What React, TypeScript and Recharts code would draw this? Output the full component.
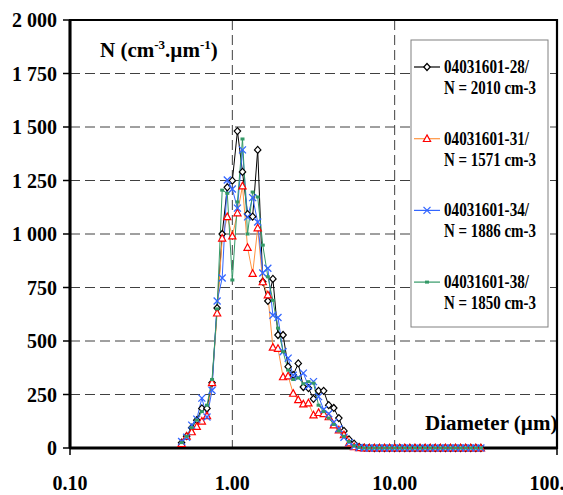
import React from "react";
import {
  LineChart,
  Line,
  XAxis,
  YAxis,
  CartesianGrid,
  ReferenceArea,
} from "recharts";

// particle diameters (µm)
const diameters = [
  0.487, 0.523, 0.562, 0.604, 0.649, 0.698, 0.75, 0.806, 0.866, 0.931,
  1.0, 1.075, 1.155, 1.241, 1.334, 1.433, 1.54, 1.655, 1.778, 1.911,
  2.054, 2.207, 2.371, 2.548, 2.738, 2.943, 3.162, 3.398, 3.652, 3.924,
  4.217, 4.532, 4.87, 5.233, 5.623, 6.043, 6.494, 6.978, 7.499, 8.058,
  8.66, 9.306, 10.0, 10.75, 11.55, 12.41, 13.34, 14.33, 15.4, 16.55,
  17.78, 19.11, 20.54, 22.07, 23.71, 25.48, 27.38, 29.43, 31.62, 33.98,
];

const run28 = [
  25, 55, 95, 130, 185, 185, 305, 654, 1000, 1218,
  1249, 1481, 1290, 1093, 1081, 1393, 777, 687, 790, 528,
  528, 380, 341, 395, 285, 280, 230, 267, 267, 200,
  187, 140, 80, 40, 20, 5, 2, 1, 0, 0,
  0, 0, 0, 0, 0, 0, 0, 0, 0, 0,
  0, 0, 0, 0, 0, 0, 0, 0, 0, 0,
];

const run31 = [
  20, 55, 75, 100, 125, 150, 305, 630, 980, 1080,
  990, 1098, 1224, 937, 815, 1028, 776, 715, 470, 465,
  332, 336, 255, 225, 205, 210, 154, 165, 160, 145,
  107, 84, 61, 23, 5, 1, 0, 0, 0, 0,
  0, 0, 0, 0, 0, 0, 0, 0, 0, 0,
  0, 0, 0, 0, 0, 0, 0, 0, 0, 0,
];

const run34 = [
  30, 50, 107, 135, 233, 145, 270, 687, 794, 1252,
  1210, 1121, 1393, 1080, 1170, 1056, 818, 840, 620, 610,
  450, 420, 340, 330, 350, 290, 310, 240, 180, 160,
  120, 90, 50, 25, 8, 2, 0, 0, 0, 0,
  0, 0, 0, 0, 0, 0, 0, 0, 0, 0,
  0, 0, 0, 0, 0, 0, 0, 0, 0, 0,
];

const run38 = [
  25, 55, 95, 130, 170, 200, 320, 650, 1205, 1190,
  785, 1150, 1444, 1000, 1196, 1173, 948, 800, 690, 560,
  450, 364, 320, 327, 300, 310, 303, 200, 170, 140,
  110, 80, 55, 30, 10, 3, 0, 0, 0, 0,
  0, 0, 0, 0, 0, 0, 0, 0, 0, 0,
  0, 0, 0, 0, 0, 0, 0, 0, 0, 0,
];

const xTicks = [0.1, 1, 10, 100];
const yTicks = [0, 250, 500, 750, 1000, 1250, 1500, 1750, 2000];

const seriesNames = ["04031601-28/", "04031601-31/", "04031601-34/", "04031601-38/"];
const seriesTotals = ["N = 2010 cm-3", "N = 1571 cm-3", "N = 1886 cm-3", "N = 1850 cm-3"];

const rows = diameters.map((d, i) => ({
  d,
  s28: run28[i],
  s31: run31[i],
  s34: run34[i],
  s38: run38[i],
}));

const FONT = "'Liberation Serif', 'Times New Roman', serif";

type Kind = "diamond" | "triangle" | "cross" | "square";

const series: { key: string; line: string; mark: string; kind: Kind }[] = [
  { key: "s28", line: "#000000", mark: "#000000", kind: "diamond" },
  { key: "s31", line: "#FF9340", mark: "#FF0000", kind: "triangle" },
  { key: "s34", line: "#3366FF", mark: "#3366FF", kind: "cross" },
  { key: "s38", line: "#339966", mark: "#339966", kind: "square" },
];

const Marker = ({ kind, x, y, color }: { kind: Kind; x: number; y: number; color: string }) => {
  if (x == null || y == null) return null;
  if (kind === "diamond")
    return (
      <path
        d={`M${x},${y - 3.5}L${x + 3.2},${y}L${x},${y + 3.5}L${x - 3.2},${y}Z`}
        fill="#fff"
        stroke={color}
        strokeWidth={1.2}
      />
    );
  if (kind === "triangle")
    return (
      <path
        d={`M${x},${y - 3.8}L${x + 3.6},${y + 2.8}L${x - 3.6},${y + 2.8}Z`}
        fill="#fff"
        stroke={color}
        strokeWidth={1.2}
      />
    );
  if (kind === "cross")
    return (
      <path
        d={`M${x - 3.5},${y - 3.5}L${x + 3.5},${y + 3.5}M${x - 3.5},${y + 3.5}L${x + 3.5},${y - 3.5}`}
        stroke={color}
        strokeWidth={1.3}
      />
    );
  return <rect x={x - 2} y={y - 1.5} width={4} height={3} fill={color} />;
};

const makeDot = (kind: Kind, color: string) => (p: any) =>
  <Marker key={`${kind}-${p.index}`} kind={kind} x={p.cx} y={p.cy} color={color} />;

const XTick = (props: any) => {
  const { x, y, payload } = props;
  const isEnd = payload.value === 0.1 || payload.value === 100;
  return (
    <g>
      {isEnd && <line x1={x} x2={x} y1={y - 28} y2={y - 21} stroke="#000" strokeWidth={1.5} />}
      <text x={x} y={y} dy="0.71em" textAnchor="middle" fill="#000" fontSize={20} fontWeight={700} fontFamily={FONT}>
        {Number(payload.value).toFixed(2)}
      </text>
    </g>
  );
};

const fmtY = (v: number) => (v >= 1000 ? `${Math.floor(v / 1000)} ${String(v % 1000).padStart(3, "0")}` : `${v}`);

const LegendBox = () => (
  <g>
    <rect x={411} y={40} width={137} height={287} fill="#fff" stroke="#808080" strokeWidth={1} />
    {series.map((s, i) => {
      const cy = 67 + i * 71.7;
      return (
        <g key={s.key}>
          <line x1={414} x2={440} y1={cy} y2={cy} stroke={s.line} strokeWidth={1.2} />
          <Marker kind={s.kind} x={427} y={cy} color={s.mark} />
          <text x={444} y={cy + 6} fontSize={18} fontWeight={700} fontFamily={FONT} textLength={85} lengthAdjust="spacingAndGlyphs">
            {seriesNames[i]}
          </text>
          <text x={444} y={cy + 27} fontSize={18} fontWeight={700} fontFamily={FONT} textLength={92} lengthAdjust="spacingAndGlyphs">
            {seriesTotals[i]}
          </text>
        </g>
      );
    })}
  </g>
);

export default function App() {
  return (
    <div style={{ position: "absolute", left: 0, top: 0, background: "#fff" }}>
      <LineChart width={563} height={495} data={rows} margin={{ top: 20, right: 6, bottom: 0, left: 0 }}>
        <CartesianGrid stroke="#404040" strokeDasharray="10 5" strokeWidth={1} />
        <XAxis
          dataKey="d"
          type="number"
          scale="log"
          domain={[0.1, 100]}
          ticks={xTicks}
          interval={0}
          allowDataOverflow
          height={47}
          tickSize={7}
          tickMargin={21}
          tickLine={false}
          tick={<XTick />}
          axisLine={{ stroke: "#000", strokeWidth: 3 }}
        />
        <YAxis
          type="number"
          domain={[0, 2000]}
          ticks={yTicks}
          interval={0}
          width={70}
          tickSize={7}
          tickMargin={6}
          tickFormatter={fmtY}
          tick={{ fill: "#000", fontSize: 20, fontWeight: 700, fontFamily: FONT }}
          tickLine={{ stroke: "#000", strokeWidth: 1.5 }}
          axisLine={{ stroke: "#000", strokeWidth: 3 }}
        />
        <ReferenceArea x1={0.1} x2={100} y1={0} y2={2000} fill="none" stroke="#000" strokeWidth={2.2} ifOverflow="visible" />
        {series.map((s) => (
          <Line
            key={s.key}
            dataKey={s.key}
            stroke={s.line}
            strokeWidth={1}
            dot={makeDot(s.kind, s.mark)}
            activeDot={false}
            isAnimationActive={false}
          />
        ))}
        <text x={100} y={57} fontSize={21} fontWeight={700} fontFamily={FONT} fill="#000">
          N (cm
          <tspan dy={-8} fontSize={13}>-3</tspan>
          <tspan dy={8}>.µm</tspan>
          <tspan dy={-8} fontSize={13}>-1</tspan>
          <tspan dy={8}>)</tspan>
        </text>
        <text x={425} y={430} fontSize={21} fontWeight={700} fontFamily={FONT} fill="#000">
          Diameter (µm)
        </text>
        <LegendBox />
      </LineChart>
    </div>
  );
}
